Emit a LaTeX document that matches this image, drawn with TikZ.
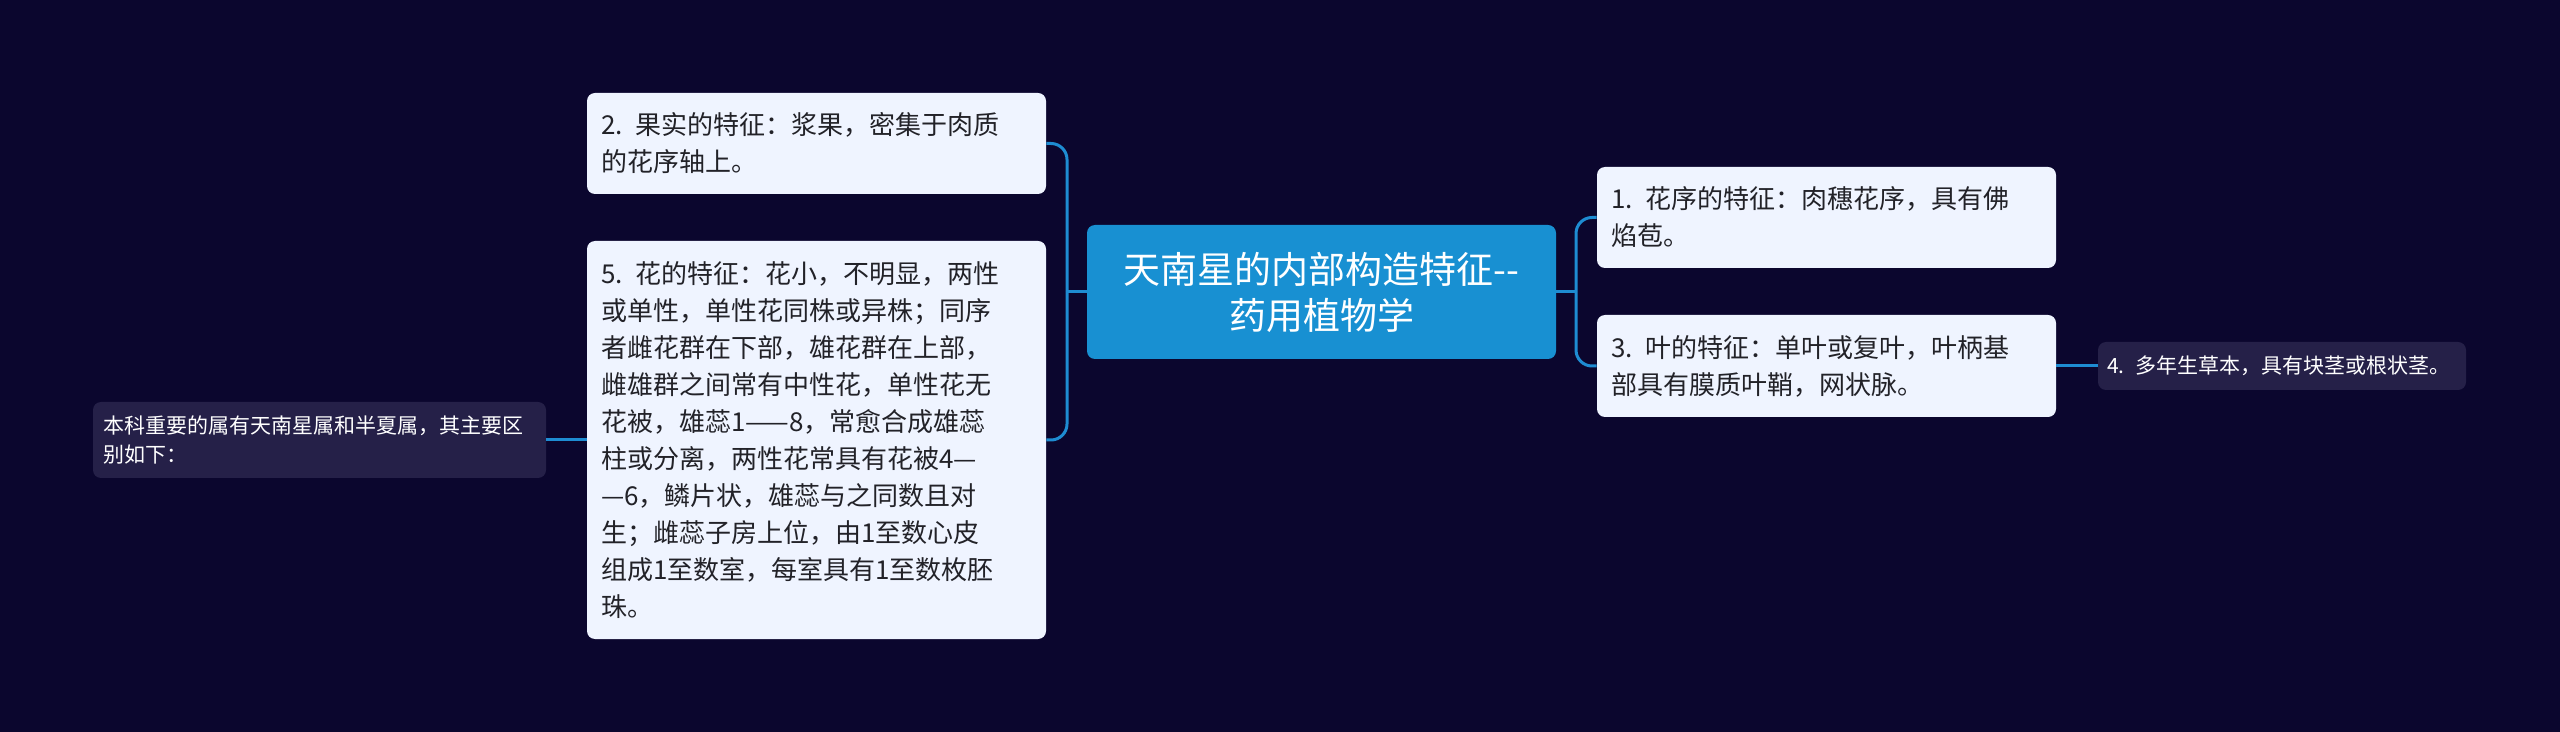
\documentclass[tikz,border=0pt]{standalone}
\usepackage{fontspec}
\setmainfont{Noto Sans CJK SC}
\definecolor{bgnavy}{RGB}{11,6,46}
\definecolor{leaffill}{RGB}{239,244,255}
\definecolor{leaftext}{RGB}{34,34,40}
\definecolor{rootfill}{RGB}{24,144,210}
\definecolor{notefill}{RGB}{37,32,72}
\definecolor{linkblue}{RGB}{30,140,210}
\begin{document}
\begin{tikzpicture}[x=0.5pt,y=-0.5pt,
  leaf/.style={fill=leaffill,rounded corners=4pt,text=leaftext,align=left,
    text width=215.5pt,inner xsep=7pt,inner ysep=0pt,
    font=\fontsize{13}{18.5}\selectfont},
  root/.style={fill=rootfill,rounded corners=4pt,text=white,align=center,
    text width=220pt,minimum width=234.5pt,minimum height=67pt,
    font=\fontsize{18.5}{23}\selectfont},
  note/.style={fill=notefill,rounded corners=4pt,text=white,align=left,
    inner ysep=0pt,font=\fontsize{10.5}{14.5}\selectfont},
  link/.style={draw=linkblue,line width=1.5pt}]
\fill[bgnavy] (0,0) rectangle (2560,732);
\useasboundingbox (0,0) rectangle (2560,732);

\node[root] (center) at (1321.5,292) {天南星的内部构造特征{-}{-}\\药用植物学};

\node[leaf,minimum height=50.5pt] (fruit) at (816.5,143.5) {2. 果实的特征：浆果，密集于肉质\\的花序轴上。};
\node[leaf,minimum height=199pt] (flower) at (816.5,440) {5. 花的特征：花小，不明显，两性\\或单性，单性花同株或异株；同序\\者雌花群在下部，雄花群在上部，\\雌雄群之间常有中性花，单性花无\\花被，雄蕊1——8，常愈合成雄蕊\\柱或分离，两性花常具有花被4—\\—6，鳞片状，雄蕊与之同数且对\\生；雌蕊子房上位，由1至数心皮\\组成1至数室，每室具有1至数枚胚\\珠。};
\node[leaf,minimum height=50.5pt] (inflor) at (1826.5,217.5) {1. 花序的特征：肉穗花序，具有佛\\焰苞。};
\node[leaf,minimum height=51pt] (leafc) at (1826.5,366) {3. 叶的特征：单叶或复叶，叶柄基\\部具有膜质叶鞘，网状脉。};

\node[note,text width=175pt,inner xsep=4.5pt,minimum height=24pt] (herb) at (2282,366) {4. 多年生草本，具有块茎或根状茎。};
\node[note,text width=216.5pt,inner xsep=5pt,minimum height=38pt] (genus) at (319.5,440) {本科重要的属有天南星属和半夏属，其主要区\\别如下：};

\coordinate (ljoin) at (1067,292);
\coordinate (rjoin) at (1576,292);

\draw[link] (center.west) -- (ljoin);
\draw[link,rounded corners=8pt] (ljoin) |- (fruit.east);
\draw[link,rounded corners=8pt] (ljoin) |- (flower.east);
\draw[link] (center.east) -- (rjoin);
\draw[link,rounded corners=8pt] (rjoin) |- (inflor.west);
\draw[link,rounded corners=8pt] (rjoin) |- (leafc.west);
\draw[link] (leafc.east) -- (herb.west);
\draw[link] (flower.west) -- (genus.east);
\end{tikzpicture}
\end{document}
